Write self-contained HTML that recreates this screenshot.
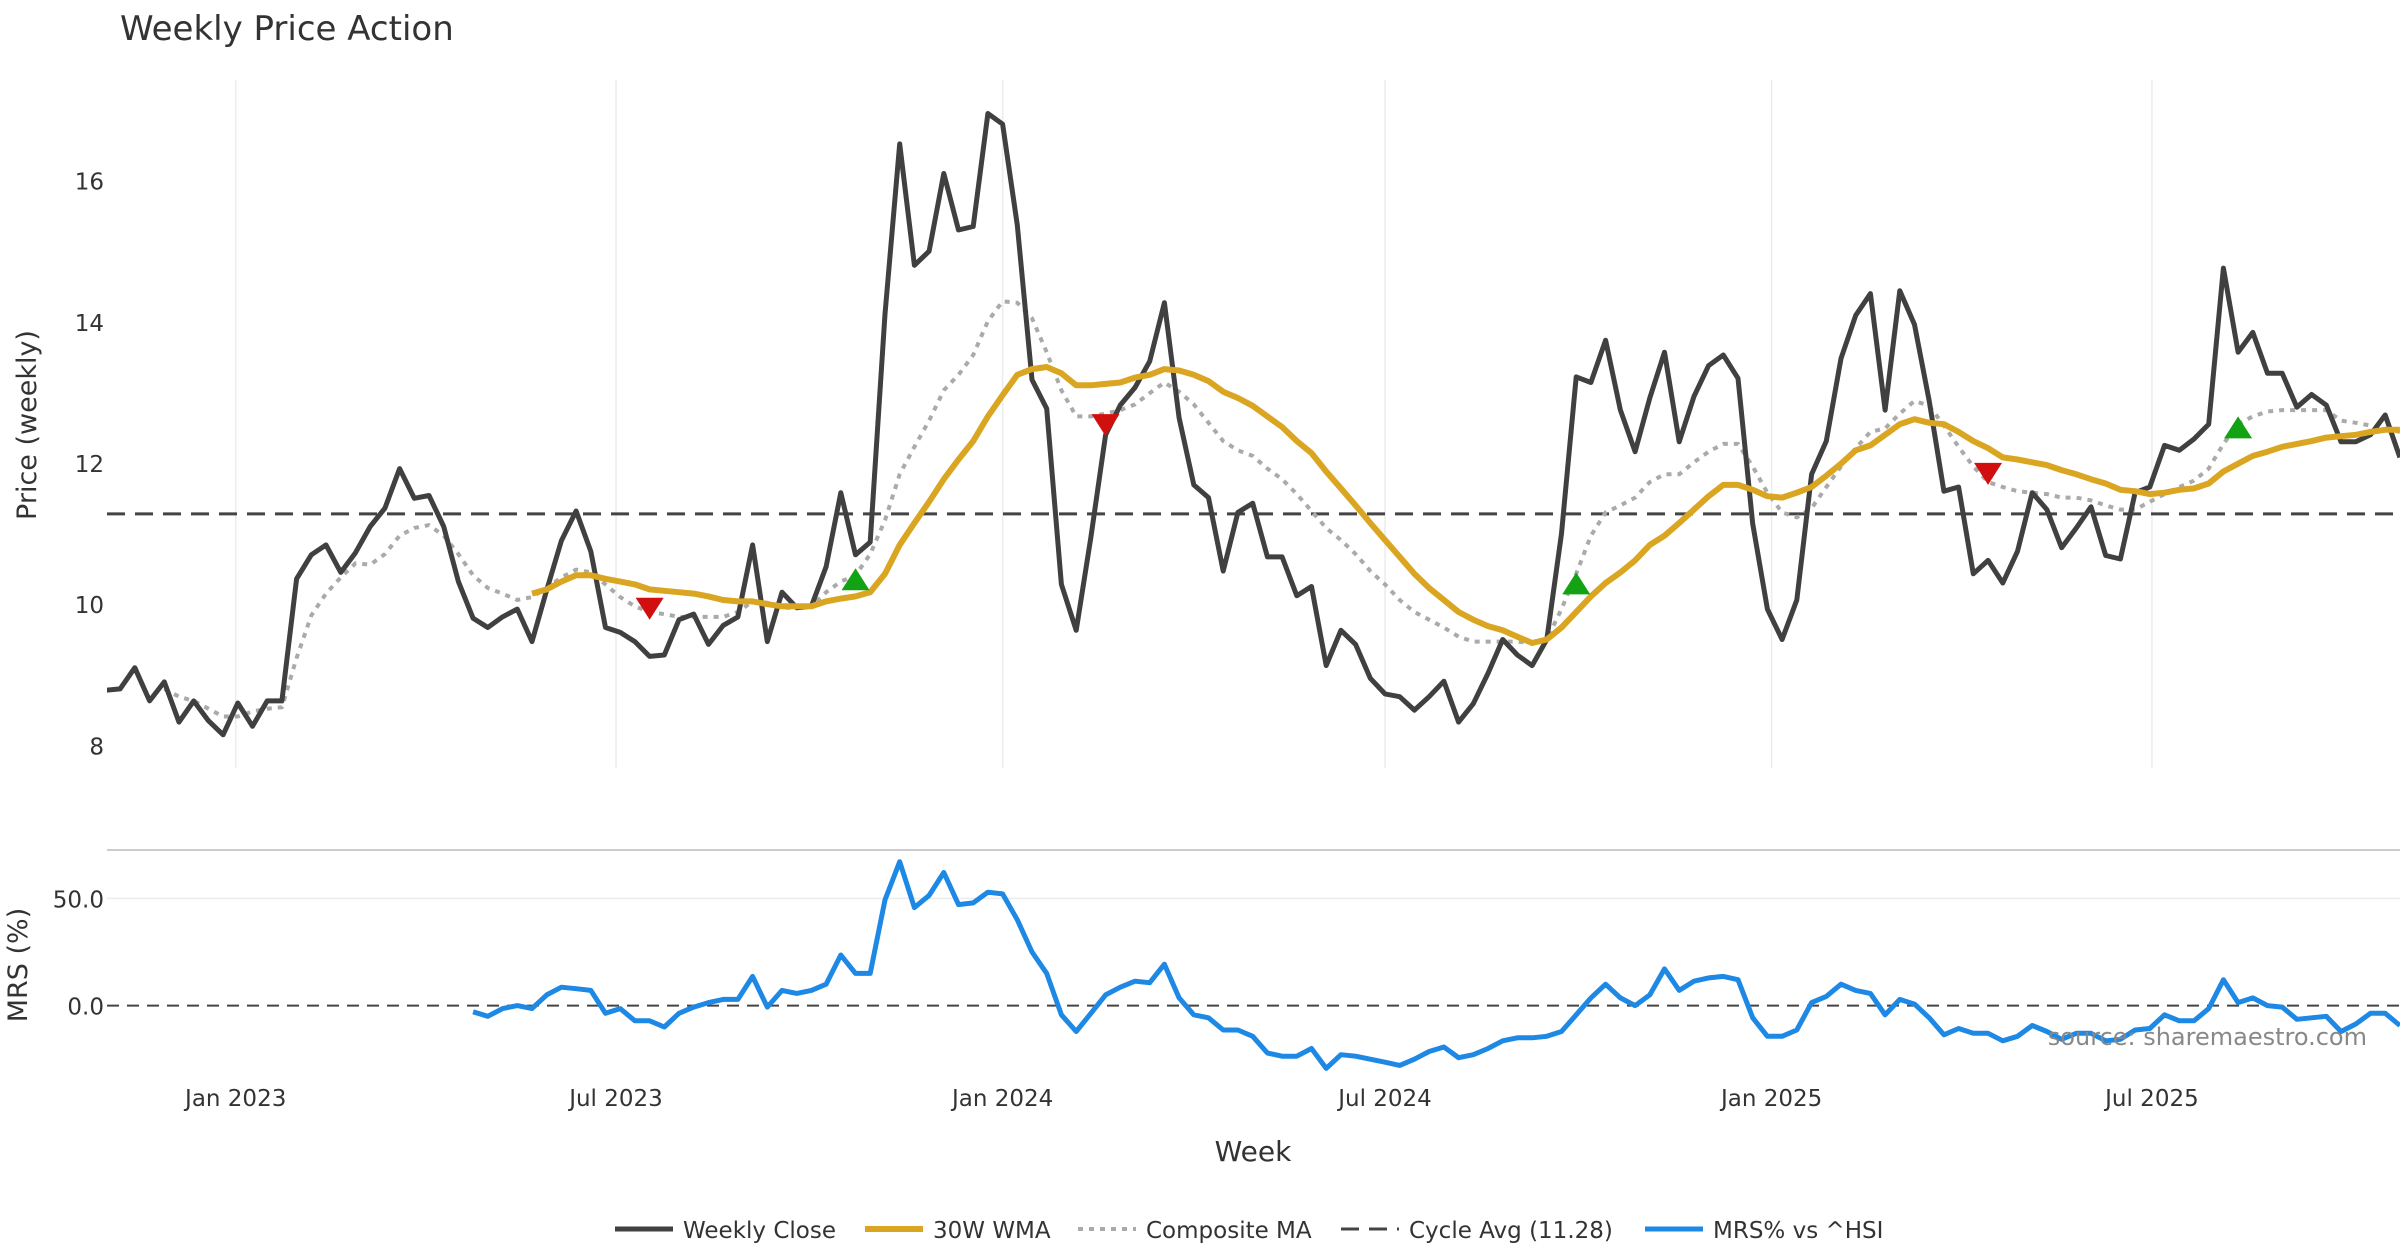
<!DOCTYPE html>
<html><head><meta charset="utf-8"><title>Weekly Price Action</title>
<style>
html,body{margin:0;padding:0;background:#fff;}
svg{display:block;font-family:"DejaVu Sans","Liberation Sans",sans-serif;}
</style></head>
<body>
<svg id="chart" width="2400" height="1260" viewBox="0 0 2400 1260" xmlns="http://www.w3.org/2000/svg">
  <defs>
    <clipPath id="mainClip"><rect x="107" y="60" width="2293" height="720"/></clipPath>
    <clipPath id="mrsClip"><rect x="107" y="852" width="2293" height="240"/></clipPath>
  </defs>
  <text x="120" y="40" font-size="34" fill="#333">Weekly Price Action</text>
  <g id="grid"></g>
  <g id="axes"></g>
  <g id="mainSeries" clip-path="url(#mainClip)"></g>
  <g id="mrsSeries" clip-path="url(#mrsClip)"></g>
  <text transform="translate(36,425) rotate(-90)" text-anchor="middle" font-size="27" fill="#333">Price (weekly)</text>
  <text transform="translate(27,965) rotate(-90)" text-anchor="middle" font-size="27" fill="#333">MRS (%)</text>
  <text x="1253" y="1161" text-anchor="middle" font-size="28" fill="#333">Week</text>
  <text x="2367" y="1045" text-anchor="end" font-size="24" fill="#888">source: sharemaestro.com</text>
  <g id="legend"></g>
</svg>
<script>
const closeVals=[8.78,8.8,9.1,8.63,8.9,8.33,8.63,8.35,8.15,8.6,8.27,8.63,8.63,10.36,10.7,10.84,10.45,10.73,11.1,11.36,11.92,11.5,11.54,11.1,10.32,9.8,9.67,9.82,9.93,9.47,10.2,10.9,11.32,10.75,9.67,9.6,9.47,9.26,9.28,9.78,9.86,9.43,9.7,9.82,10.84,9.47,10.17,9.95,9.97,10.53,11.58,10.7,10.88,14.11,16.52,14.8,15.0,16.1,15.3,15.35,16.95,16.8,15.37,13.18,12.77,10.28,9.63,10.95,12.4,12.82,13.07,13.44,14.27,12.64,11.69,11.51,10.47,11.3,11.43,10.67,10.67,10.12,10.25,9.13,9.63,9.43,8.95,8.73,8.69,8.5,8.69,8.91,8.33,8.59,9.02,9.5,9.28,9.13,9.5,11.0,13.22,13.14,13.74,12.75,12.16,12.92,13.57,12.3,12.94,13.38,13.53,13.2,11.14,9.93,9.5,10.06,11.84,12.31,13.48,14.09,14.4,12.75,14.44,13.96,12.88,11.6,11.66,10.43,10.62,10.3,10.75,11.58,11.34,10.8,11.08,11.38,10.69,10.64,11.58,11.66,12.25,12.18,12.34,12.55,14.76,13.57,13.85,13.27,13.27,12.79,12.97,12.82,12.3,12.3,12.4,12.68,12.08];
const wmaVals=[10.15,10.21,10.32,10.41,10.41,10.36,10.32,10.28,10.21,10.19,10.17,10.15,10.11,10.06,10.04,10.04,10.0,9.97,9.97,9.97,10.04,10.08,10.11,10.17,10.43,10.84,11.15,11.45,11.77,12.05,12.31,12.66,12.96,13.25,13.33,13.36,13.27,13.1,13.1,13.12,13.14,13.21,13.25,13.33,13.31,13.25,13.16,13.01,12.92,12.81,12.66,12.51,12.31,12.14,11.88,11.64,11.4,11.15,10.91,10.67,10.43,10.23,10.06,9.89,9.78,9.69,9.63,9.54,9.45,9.5,9.67,9.89,10.11,10.3,10.45,10.62,10.84,10.97,11.15,11.34,11.53,11.69,11.69,11.62,11.53,11.51,11.58,11.66,11.82,11.99,12.18,12.25,12.4,12.55,12.62,12.57,12.55,12.44,12.31,12.21,12.08,12.05,12.01,11.97,11.9,11.84,11.77,11.71,11.62,11.6,11.56,11.58,11.62,11.64,11.71,11.88,11.99,12.1,12.16,12.23,12.27,12.31,12.36,12.38,12.4,12.44,12.47,12.47];
const compVals=[8.8,8.69,8.63,8.52,8.41,8.41,8.48,8.52,8.54,9.24,9.84,10.15,10.38,10.58,10.56,10.71,10.97,11.08,11.12,10.97,10.71,10.41,10.23,10.15,10.06,10.1,10.23,10.38,10.49,10.45,10.28,10.1,9.97,9.89,9.86,9.82,9.82,9.82,9.82,9.89,10.04,10.02,9.95,9.95,9.97,10.17,10.32,10.41,10.71,11.19,11.84,12.23,12.6,13.03,13.25,13.53,14.01,14.29,14.27,14.05,13.57,13.03,12.66,12.66,12.7,12.75,12.83,12.99,13.14,13.01,12.83,12.57,12.31,12.18,12.1,11.92,11.77,11.56,11.32,11.08,10.91,10.71,10.47,10.28,10.06,9.89,9.78,9.67,9.54,9.47,9.47,9.47,9.47,9.45,9.5,9.93,10.43,10.97,11.3,11.4,11.51,11.73,11.84,11.84,12.01,12.16,12.27,12.27,11.95,11.58,11.3,11.23,11.36,11.66,11.95,12.21,12.44,12.49,12.7,12.88,12.81,12.53,12.23,11.95,11.73,11.66,11.6,11.58,11.56,11.51,11.51,11.47,11.4,11.34,11.34,11.45,11.56,11.66,11.75,11.92,12.27,12.55,12.66,12.73,12.75,12.75,12.75,12.75,12.6,12.57,12.53,12.49,12.44];
const mrsVals=[-2.9,-5,-1.4,0,-1.4,5,8.6,7.9,7.1,-3.6,-1.4,-7.1,-7.1,-10,-3.6,-0.7,1.4,2.9,2.9,13.6,-0.7,7.1,5.7,7.1,10,23.6,15,15,49.3,67.1,45.7,51.4,62.1,47.1,47.9,52.9,52.1,40,25,15,-4.3,-12.1,-3.6,5,8.6,11.4,10.7,19.3,3.6,-4.3,-5.7,-11.4,-11.4,-14.3,-22.1,-23.6,-23.6,-20,-29.3,-22.9,-23.6,-25,-26.4,-27.9,-25,-21.4,-19.3,-24.3,-22.9,-20,-16.4,-15,-15,-14.3,-12.1,-4.3,3.6,10,3.6,0,5,17.1,7.1,11.4,12.9,13.6,12.1,-5.7,-14.3,-14.3,-11.4,1.4,4.3,10,7.1,5.7,-4.3,2.9,0.7,-5.7,-13.6,-10.7,-12.9,-12.9,-16.4,-14.3,-9.3,-12.1,-15.7,-12.9,-12.9,-16.4,-15.7,-11.4,-10.7,-4.3,-7.1,-7.1,-1.4,12.1,1.4,3.6,0,-0.7,-6.4,-5.7,-5,-12.1,-8.6,-3.6,-3.6,-9.3];
const cycleAvg=11.28;
const sellIdx=[37,68,128];
const sellVals=[9.95,12.55,11.86];
const buyIdx=[51,100,145];
const buyVals=[10.34,10.28,12.49];
const priceTicks=[8,10,12,14,16];
const mrsTicks=[0,50];
const monthTickLabels=["Jan 2023","Jul 2023","Jan 2024","Jul 2024","Jan 2025","Jul 2025"];
const monthTickDates=["2023-01-01","2023-07-01","2024-01-01","2024-07-01","2025-01-01","2025-07-01"];
const startDate="2022-10-31";

const NS="http://www.w3.org/2000/svg";
const N=closeVals.length;
const pxWeek=14.708, xJan23=235.7;
const startMs=Date.parse(startDate), jan23Ms=Date.parse("2023-01-01");
function xIdx(i){return xJan23+((startMs-jan23Ms)/864e5/7+i)*pxWeek;}
function xDate(s){return xJan23+(Date.parse(s)-jan23Ms)/864e5/7*pxWeek;}
function yP(v){return 745.4-(v-8)*(745.4-180.6)/8;}
function yM(v){return 1005.6-v*(1005.6-898.4)/50;}
function mk(tag,attrs,parent){const e=document.createElementNS(NS,tag);for(const k in attrs)e.setAttribute(k,attrs[k]);parent.appendChild(e);return e;}
const grid=document.getElementById('grid'),axes=document.getElementById('axes'),main=document.getElementById('mainSeries'),mrsG=document.getElementById('mrsSeries'),leg=document.getElementById('legend');

monthTickDates.forEach((d,k)=>{
  const x=xDate(d);
  const g=mk('line',{x1:x,x2:x,y1:80,y2:768,stroke:'#ececec','stroke-width':1.5},grid);
  
  
  const t=mk('text',{x:x,y:1106,'text-anchor':'middle','font-size':23,fill:'#333'},axes);
  t.textContent=monthTickLabels[k];
  
  
});
priceTicks.forEach(v=>{
  const t=mk('text',{x:104,y:yP(v)+9,'text-anchor':'end','font-size':23,fill:'#333'},axes);
  t.textContent=v;
  
  
});
mrsTicks.forEach(v=>{
  const t=mk('text',{x:104,y:yM(v)+9,'text-anchor':'end','font-size':23,fill:'#333'},axes);
  t.textContent=v.toFixed(1);
  
  
  if(v!==0){const l=mk('line',{x1:107,x2:2400,y1:yM(v),y2:yM(v),stroke:'#ececec','stroke-width':1.5},grid);
  
  }
});
const sep=mk('line',{x1:107,x2:2400,y1:850,y2:850,stroke:'#ccc','stroke-width':2},axes);



function path(vals,off,yf,attrs,parent,name){
  const d=vals.map((v,j)=>(j?'L':'M')+xIdx(j+off).toFixed(1)+','+yf(v).toFixed(1)).join('');
  const p=mk('path',Object.assign({d:d,fill:'none','stroke-linejoin':'round'},attrs),parent);
  
  
  return p;
}
const cy=mk('line',{x1:107,x2:2400,y1:yP(cycleAvg),y2:yP(cycleAvg),stroke:'#444','stroke-width':3,'stroke-dasharray':'18,10'},main);


path(compVals,N-compVals.length,yP,{stroke:'#aaa','stroke-width':4,'stroke-dasharray':'5,6'},main,'composite-ma-line');
path(closeVals,0,yP,{stroke:'#404040','stroke-width':5},main,'weekly-close-line');
path(wmaVals,N-wmaVals.length,yP,{stroke:'#DAA520','stroke-width':6},main,'wma-30w-line');
sellIdx.forEach((i,k)=>{const x=xIdx(i),y=yP(sellVals[k]);
  const t=mk('polygon',{points:`${x-14},${y-10} ${x+14},${y-10} ${x},${y+12}`,fill:'#d10f0f'},main);
  
  });
buyIdx.forEach((i,k)=>{const x=xIdx(i),y=yP(buyVals[k]);
  const t=mk('polygon',{points:`${x-14},${y+10} ${x+14},${y+10} ${x},${y-12}`,fill:'#13a213'},main);
  
  });
const z=mk('line',{x1:107,x2:2400,y1:yM(0),y2:yM(0),stroke:'#444','stroke-width':2,'stroke-dasharray':'12,8'},mrsG);


path(mrsVals,N-mrsVals.length,yM,{stroke:'#1E88E5','stroke-width':5},mrsG,'mrs-line');

const items=[["Weekly Close",615,{stroke:'#404040','stroke-width':5}],["30W WMA",865,{stroke:'#DAA520','stroke-width':6}],["Composite MA",1078,{stroke:'#aaa','stroke-width':4,'stroke-dasharray':'5,6'}],["Cycle Avg (11.28)",1341,{stroke:'#444','stroke-width':3,'stroke-dasharray':'18,10'}],["MRS% vs ^HSI",1645,{stroke:'#1E88E5','stroke-width':5}]];
items.forEach(it=>{
  const g=mk('g',{},leg);
  
  
  mk('line',Object.assign({x1:it[1],x2:it[1]+58,y1:1229,y2:1229},it[2]),g);
  const t=mk('text',{x:it[1]+68,y:1238,'font-size':23,fill:'#333'},g);
  t.textContent=it[0];
});
</script>
</body></html>
